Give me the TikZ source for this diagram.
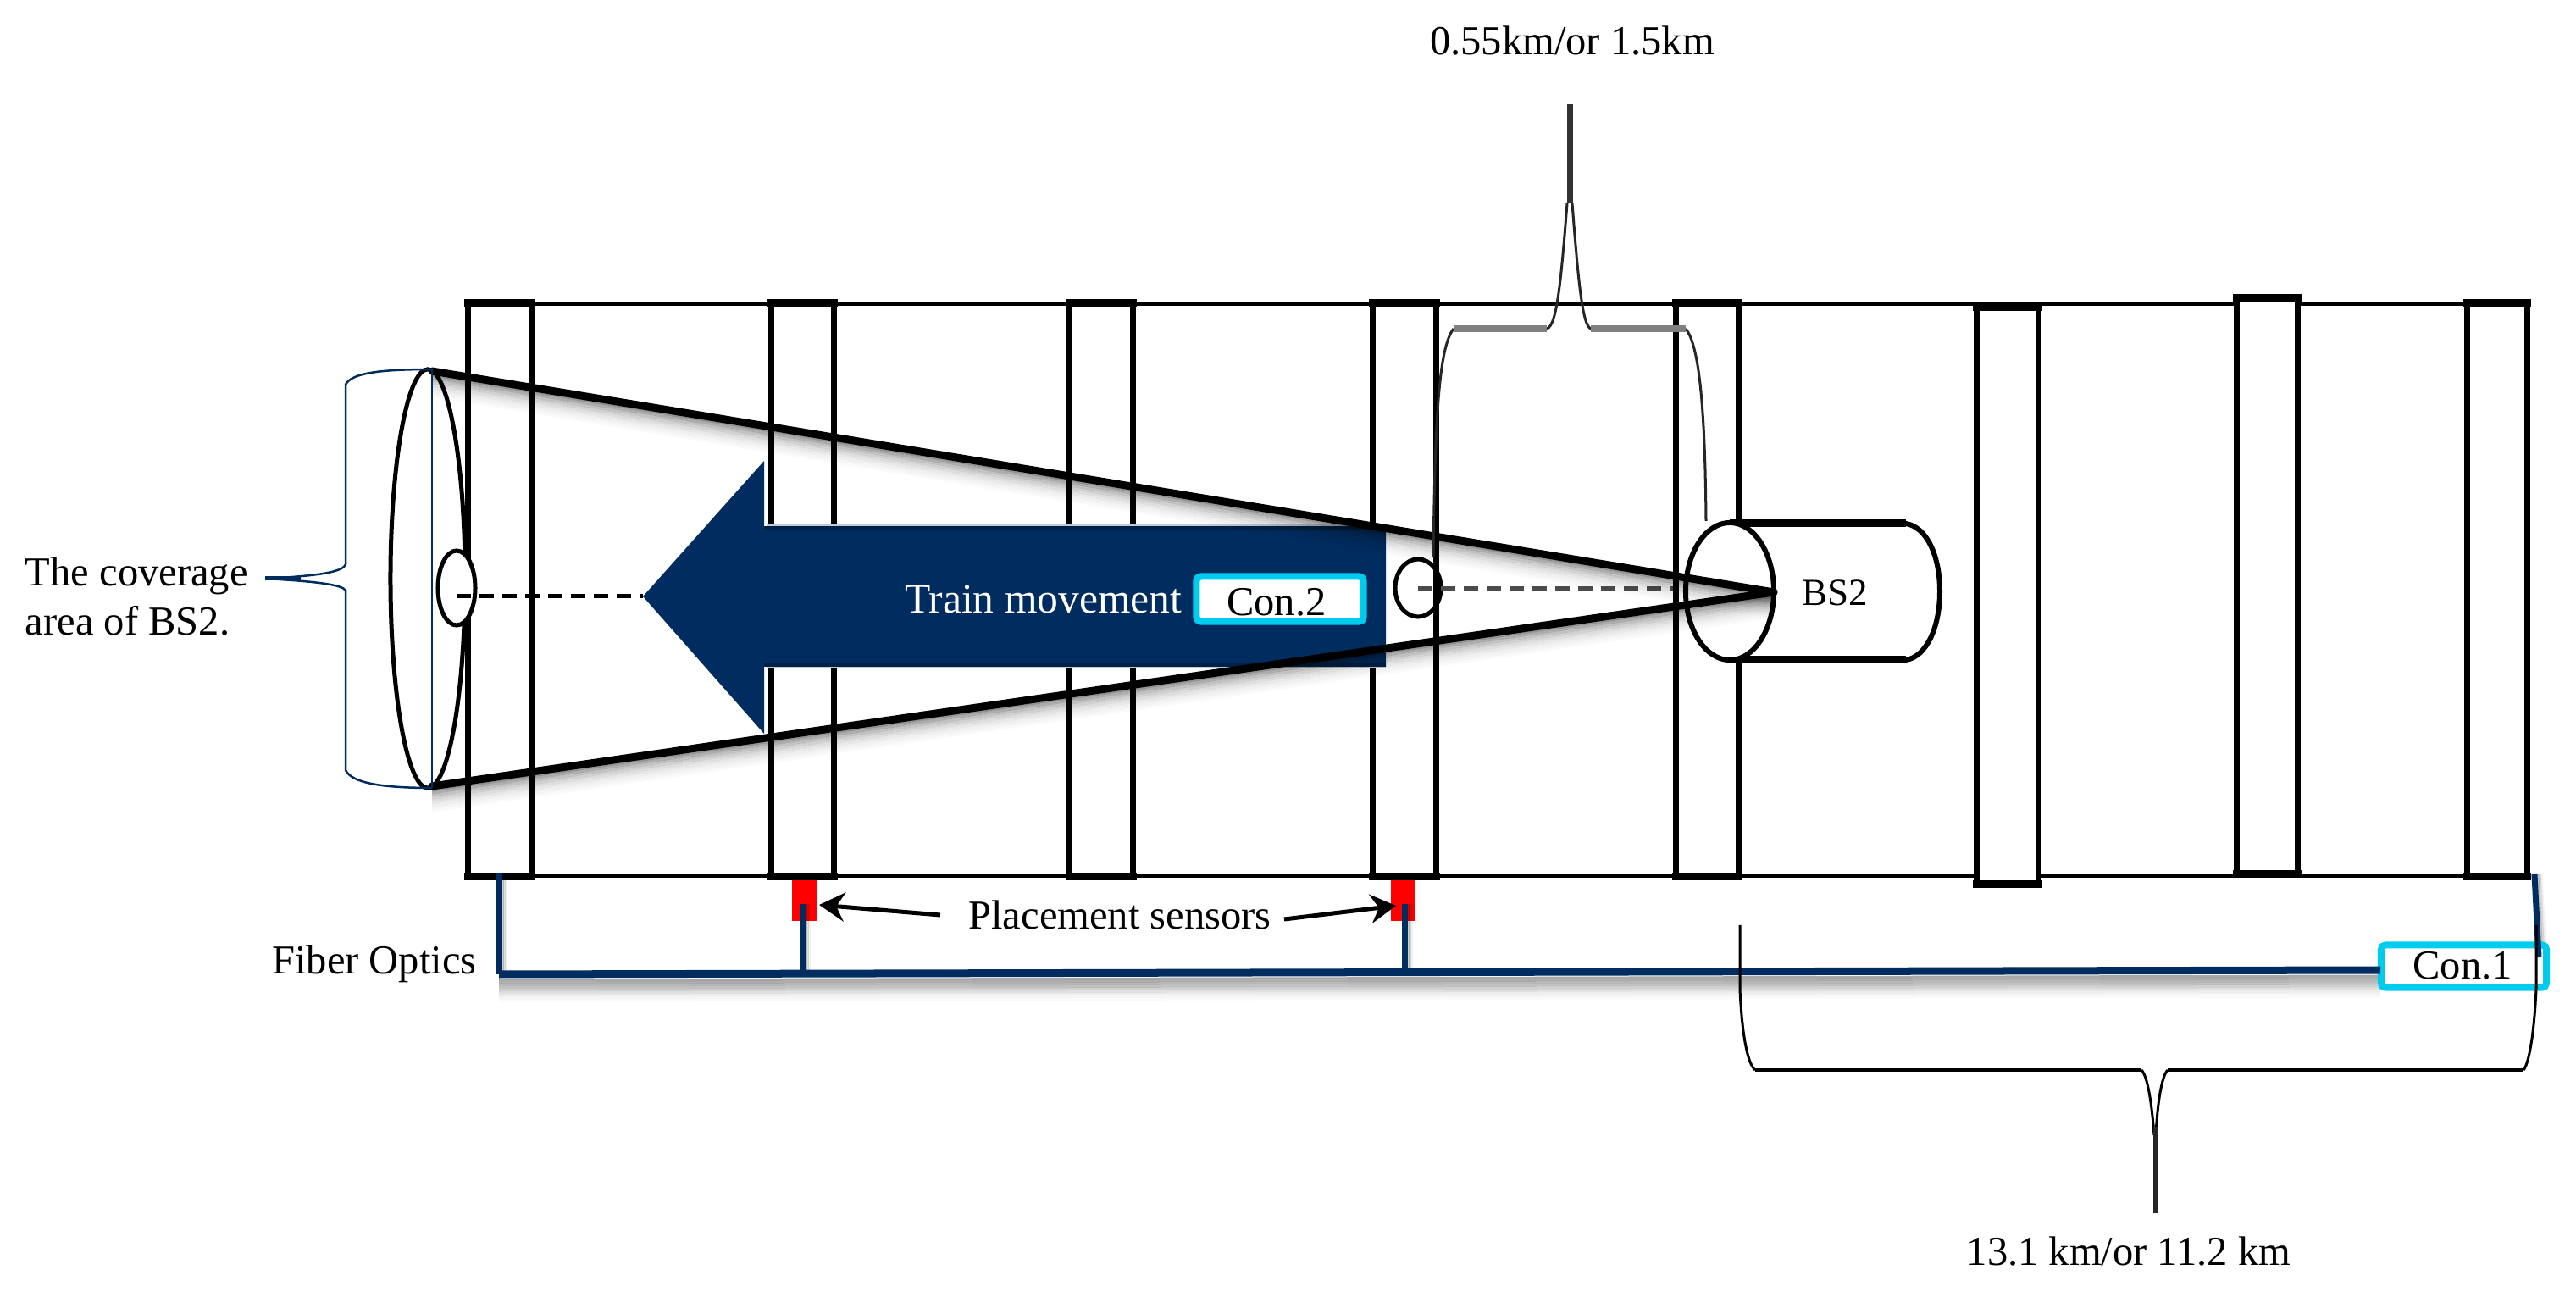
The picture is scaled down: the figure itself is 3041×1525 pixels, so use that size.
\documentclass[tikz,border=0pt]{standalone}
\usepackage{fontspec}
\setmainfont{Liberation Serif}
\usepackage{tikz}
\usetikzlibrary{positioning, calc, arrows.meta, shapes.geometric}

\definecolor{navyfill}{HTML}{002C5F}
\definecolor{concyan}{HTML}{00CCEE}

\tikzset{
    post/.style={rectangle, draw=black, fill=white, line width=0.07cm, inner sep=0pt, outer sep=0pt},
    postcap/.style={line width=0.09cm, line cap=rect},
    rail/.style={line width=0.045cm},
    beam/.style={line width=0.09cm, line cap=round},
    softline/.style={line width=0.03cm, black},
    hole/.style={ellipse, draw=black, line width=0.05cm, inner sep=0pt, outer sep=0pt},
    conbox/.style={rectangle, draw=concyan, fill=white, line width=0.08cm, rounded corners=0.05cm, inner sep=0pt, outer sep=0pt},
    fiber/.style={navyfill, line width=0.07cm},
    sensor/.style={rectangle, fill=red, minimum width=0.29cm, minimum height=0.48cm, inner sep=0pt, outer sep=0pt},
    txt/.style={font=\fontsize{13.8}{16.5}\selectfont, inner sep=0pt, outer sep=0pt},
    midline/.style={dashed, dash pattern=on 0.17cm off 0.1cm, line width=0.05cm},
    brace/.style={line width=0.03cm, black}
}

\begin{document}
\begin{tikzpicture}[x=0.01cm, y=-0.01cm, >=Stealth]
    \useasboundingbox (0,0) rectangle (3041,1525);

    % Rails
    \coordinate (railtl) at (552,359);
    \coordinate (railtr) at (2983,359);
    \coordinate (railbl) at (552,1034);
    \coordinate (railbr) at (2983,1034);
    \draw[rail] (railtl) -- (railtr);
    \draw[rail] (railbl) -- (railbr);

    % Posts
    \foreach \name/\cx/\cy/\w/\h in {p1/590/696/0.75/6.77, p2/947.5/696/0.74/6.77, p3/1300/696/0.74/6.77, p4/1658/696/0.74/6.77,
        p5/2015.5/696/0.74/6.77, p6/2370/703/0.72/6.80, p7/2676/691.5/0.72/6.79, p8/2947.5/696/0.71/6.77} {
        \node[post, minimum width=\w cm, minimum height=\h cm] (\name) at (\cx,\cy) {};
        \draw[postcap] (\name.north west) -- (\name.north east);
        \draw[postcap] (\name.south west) -- (\name.south east);
    }

    % Coverage ellipse and small holes
    \node[hole, minimum width=0.88cm, minimum height=4.94cm] (cover) at (505,683) {};
    \node[hole, fill=white, minimum width=0.44cm, minimum height=0.88cm] (holeL) at (539,694) {};
    \node[hole, minimum width=0.54cm, minimum height=0.68cm] (holeR) at (1674,694) {};

    % Base station
    \draw[fill=white, line width=0.06cm] (2042,618) -- (2250,618)
        .. controls (2274,622) and (2290,655) .. (2290,698)
        .. controls (2290,741) and (2274,775) .. (2250,779) -- (2042,779);
    \draw[line width=0.09cm] (2042,618) -- (2250,618);
    \draw[line width=0.09cm] (2042,779) -- (2250,779);
    \node[hole, fill=white, line width=0.06cm, minimum width=1.04cm, minimum height=1.62cm] (bsfront) at (2042,698) {};
    \node[txt, font=\fontsize{12.8}{15}\selectfont] (bs) at (2166,700) {BS2};

    % Train arrow
    \fill[navyfill] (759,704) -- (902,544) -- (902,622) -- (1636,622) -- (1636,787) -- (902,787) -- (902,866) -- cycle;
    \draw[line width=0.05cm, navyfill!75!black] (902,624) -- (1636,624);
    \draw[line width=0.05cm, navyfill!75!black] (902,785) -- (1636,785);
    \draw[line width=0.02cm, navyfill!25] (905,620.5) -- (1636,620.5);
    \draw[line width=0.02cm, navyfill!25] (905,788.5) -- (1636,788.5);

    % Dashed axes
    \coordinate (axisL) at (539,704);
    \coordinate (tip) at (759,704);
    \coordinate (axisR) at (1674,695);
    \coordinate (axisE) at (1975,695);
    \draw[midline] (axisL) -- (tip);
    \draw[midline, black!70] (axisR) -- (axisE);

    % Cone of BS2
    \coordinate (conetop) at (510,438);
    \coordinate (conebot) at (510,928);
    \coordinate (apex) at (2094,699);
    \foreach \s/\o in {0.05/0.42, 0.08/0.32, 0.11/0.24, 0.14/0.18, 0.17/0.13, 0.20/0.09, 0.23/0.06, 0.26/0.04, 0.29/0.02} {
        \draw[softline, opacity=\o, transform canvas={yshift=-\s cm}] (conetop) -- (apex);
        \draw[softline, opacity=\o, transform canvas={yshift=-\s cm}] (conebot) -- (apex);
    }
    \draw[beam] (conetop) -- (apex);
    \draw[beam] (conebot) -- (apex);

    % Text on the arrow
    \node[conbox, minimum width=1.97cm, minimum height=0.53cm] (con2) at (1511,707) {};
    \node[txt] (con2txt) at (1507,711) {Con.2};
    \node[txt, text=white, font=\fontsize{14.1}{16.5}\selectfont, left=0.17cm of con2] (train) {Train movement};

    % Sensors
    \node[sensor] (s1) at (949.5,1063) {};
    \node[sensor] (s2) at (1656,1063) {};

    % Fiber optics
    \coordinate (fbl) at (589,1150);
    \coordinate (fbr) at (2810,1145);
    \coordinate (ftl) at (589,1030);
    \coordinate (ftr) at (2992,1032);
    \coordinate (fre) at (2997,1130);
    \coordinate (b1) at (947,1150);
    \coordinate (b2) at (1658,1149);
    \coordinate (s1b) at (947,1067);
    \coordinate (s2b) at (1658,1067);
    \foreach \s/\o in {0.07/0.34, 0.10/0.32, 0.13/0.28, 0.16/0.24, 0.19/0.18, 0.22/0.12, 0.25/0.07, 0.28/0.04, 0.31/0.02} {
        \draw[softline, opacity=\o, transform canvas={yshift=-\s cm}] (fbl) -- (fbr);
    }
    \foreach \s/\o in {0.04/0.2, 0.06/0.12, 0.08/0.06} {
        \draw[softline, opacity=\o, transform canvas={xshift=\s cm}] (ftl) -- (fbl);
        \draw[softline, opacity=\o, transform canvas={xshift=\s cm}] (ftr) -- (fre);
        \draw[softline, opacity=\o, transform canvas={xshift=\s cm}] (s1b) -- (b1);
        \draw[softline, opacity=\o, transform canvas={xshift=\s cm}] (s2b) -- (b2);
    }
    \node[conbox, minimum width=1.95cm, minimum height=0.5cm] (con1) at (2908.5,1140.5) {};
    \node[txt] (con1txt) at (2907,1140) {Con.1};
    \draw[fiber, line width=0.09cm] (fbl) -- (fbr);
    \draw[fiber] (ftl) -- (fbl);
    \draw[fiber] (ftr) -- (fre);
    \draw[fiber] (s1b) -- (b1);
    \draw[fiber] (s2b) -- (b2);

    % Sensor labels
    \node[txt] (place) at (1322,1080) {Placement sensors};
    \node[txt] (fo) at (442,1138) {Fiber Optics};
    \coordinate (tailL) at (1110,1080);
    \coordinate (tailR) at (1516,1085);
    \coordinate (headL) at (967,1068);
    \coordinate (headR) at (1648,1069);
    \draw[line width=0.05cm, -{Stealth[length=0.3cm, width=0.34cm]}] (tailL) -- (headL);
    \draw[line width=0.05cm, -{Stealth[length=0.3cm, width=0.34cm]}] (tailR) -- (headR);

    % Brace of the coverage area
    \coordinate (cbtip) at (313,683);
    \draw[navyfill, line width=0.025cm] (510,436) -- (510,930);
    \draw[navyfill, line width=0.025cm] (510,436) .. controls (450,436) and (415,440) .. (408,454) -- (408,666)
        .. controls (405,676) and (370,680) .. (cbtip) .. controls (370,686) and (405,690) .. (408,697) -- (408,909)
        .. controls (415,924) and (450,930) .. (510,930);
    \draw[navyfill, line width=0.05cm] (cbtip) -- (355,683);
    \node[txt, anchor=west, align=left] (area) at (30,704) {The coverage\\area of BS2.};

    % Brace on top
    \coordinate (bttip) at (1853,123);
    \draw[brace, black!85] (1692,658) .. controls (1694,500) and (1698,410) .. (1716,388);
    \draw[brace, black!85] (1716,388) -- (1826,388) .. controls (1838,385) and (1843,330) .. (1850,240);
    \draw[brace, black!85] (1856,240) .. controls (1863,330) and (1868,385) .. (1878,388) -- (1990,388);
    \draw[brace, black!85] (1990,388) .. controls (2008,410) and (2013,500) .. (2014,615);
    \draw[line width=0.075cm, black!50] (1716,388) -- (1826,388);
    \draw[line width=0.075cm, black!50] (1878,388) -- (1990,388);
    \draw[line width=0.07cm, black!80] (bttip) -- (1853,240);
    \node[txt] (toplabel) at (1856,48) {0.55km/or 1.5km};

    % Brace at the bottom
    \coordinate (bbtip) at (2544,1432);
    \draw[brace] (2054,1092) -- (2054,1167) .. controls (2056,1215) and (2062,1255) .. (2072,1263);
    \draw[brace] (2994,1092) -- (2994,1167) .. controls (2992,1215) and (2986,1255) .. (2979,1263);
    \draw[line width=0.04cm] (2072,1263) -- (2528,1263);
    \draw[line width=0.04cm] (2559,1263) -- (2979,1263);
    \draw[brace] (2528,1263) .. controls (2535,1270) and (2540,1300) .. (2543,1340);
    \draw[brace] (2559,1263) .. controls (2552,1270) and (2547,1300) .. (2545,1340);
    \draw[line width=0.05cm, black!85] (bbtip) -- (2544,1330);
    \node[txt] (botlabel) at (2513,1477) {13.1 km/or 11.2 km};
\end{tikzpicture}
\end{document}
